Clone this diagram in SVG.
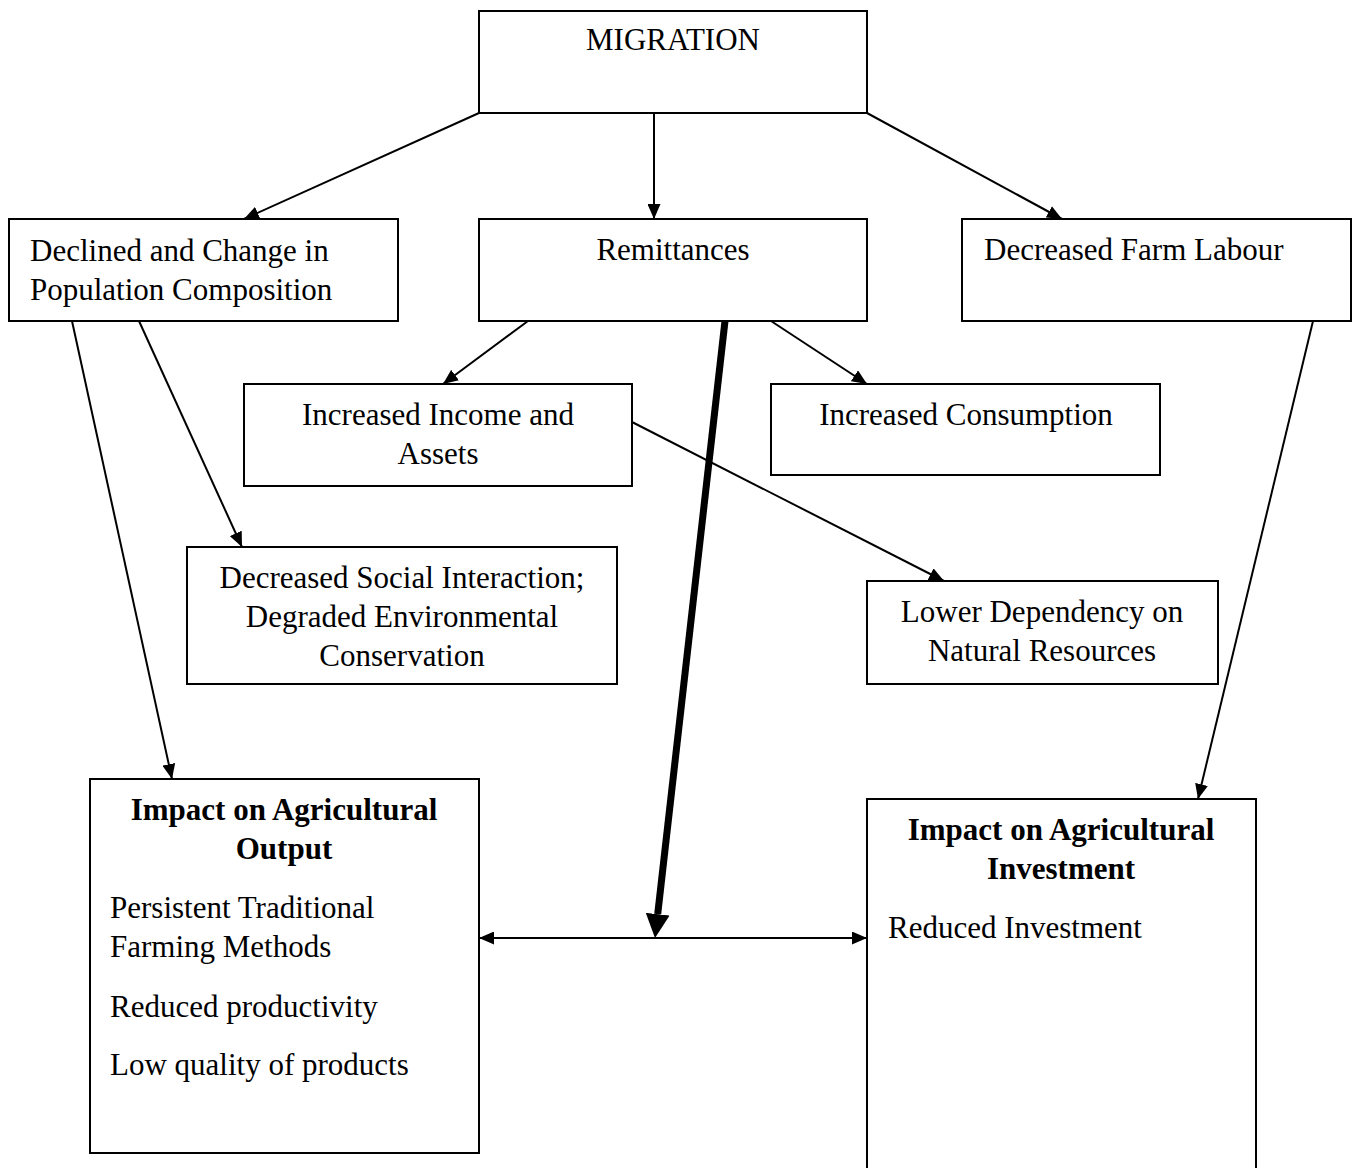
<svg xmlns="http://www.w3.org/2000/svg" width="1358" height="1168" viewBox="0 0 1358 1168">
<style>
.box{fill:#fff;stroke:#000;stroke-width:2}
text{font-family:"Liberation Serif","Times New Roman",serif;font-size:31px;fill:#000}
.c{text-anchor:middle}
.b{font-weight:bold}
.ln{stroke:#000;stroke-width:2;fill:none;marker-end:url(#ah)}
</style>
<defs>
<marker id="ah" markerUnits="userSpaceOnUse" markerWidth="15" markerHeight="13" refX="15" refY="6.5" orient="auto-start-reverse"><path d="M0,0 L15,6.5 L0,13 z" fill="#000"/></marker>
<marker id="ahb" markerUnits="userSpaceOnUse" markerWidth="24" markerHeight="24" refX="0" refY="12" orient="auto"><path d="M0,0 L24,12 L0,24 z" fill="#000"/></marker>
</defs>
<rect width="1358" height="1168" fill="#fff"/>
<g id="connectors">
<line class="ln" x1="479" y1="113" x2="244" y2="219"/>
<line class="ln" x1="654" y1="113" x2="654" y2="219"/>
<line class="ln" x1="867" y1="113" x2="1062" y2="219"/>
<line class="ln" x1="72" y1="321" x2="172" y2="779"/>
<line class="ln" x1="139" y1="321" x2="242" y2="547"/>
<line class="ln" x1="528" y1="321" x2="443" y2="384"/>
<line class="ln" x1="771" y1="321" x2="867" y2="384"/>
<line class="ln" x1="632" y1="422" x2="944" y2="581"/>
<line class="ln" x1="1313" y1="321" x2="1198" y2="799"/>
<line class="ln" x1="479" y1="938" x2="867" y2="938" style="marker-start:url(#ah)"/>
<line x1="725" y1="321" x2="657.7" y2="914.2" stroke="#000" stroke-width="7" marker-end="url(#ahb)"/>
</g>
<g id="migration"><rect class="box" x="479" y="11" width="388" height="102"/><text class="c" x="673" y="50">MIGRATION</text></g>
<g id="population"><rect class="box" x="9" y="219" width="389" height="102"/><text x="30" y="261">Declined and Change in</text><text x="30" y="300">Population Composition</text></g>
<g id="remittances"><rect class="box" x="479" y="219" width="388" height="102"/><text class="c" x="673" y="260">Remittances</text></g>
<g id="farm-labour"><rect class="box" x="962" y="219" width="389" height="102"/><text x="984" y="260">Decreased Farm Labour</text></g>
<g id="income"><rect class="box" x="244" y="384" width="388" height="102"/><text class="c" x="438" y="425">Increased Income and</text><text class="c" x="438" y="464">Assets</text></g>
<g id="consumption"><rect class="box" x="771" y="384" width="389" height="91"/><text class="c" x="966" y="425">Increased Consumption</text></g>
<g id="social"><rect class="box" x="187" y="547" width="430" height="137"/><text class="c" x="402" y="588">Decreased Social Interaction;</text><text class="c" x="402" y="627">Degraded Environmental</text><text class="c" x="402" y="666">Conservation</text></g>
<g id="dependency"><rect class="box" x="867" y="581" width="351" height="103"/><text class="c" x="1042" y="622">Lower Dependency on</text><text class="c" x="1042" y="661">Natural Resources</text></g>
<g id="output"><rect class="box" x="90" y="779" width="389" height="374"/><text class="c b" x="284" y="820">Impact on Agricultural</text><text class="c b" x="284" y="859">Output</text><text x="110" y="918">Persistent Traditional</text><text x="110" y="957">Farming Methods</text><text x="110" y="1017">Reduced productivity</text><text x="110" y="1075">Low quality of products</text></g>
<g id="investment"><rect class="box" x="867" y="799" width="389" height="380"/><text class="c b" x="1061" y="840">Impact on Agricultural</text><text class="c b" x="1061" y="879">Investment</text><text x="888" y="938">Reduced Investment</text></g>
</svg>
